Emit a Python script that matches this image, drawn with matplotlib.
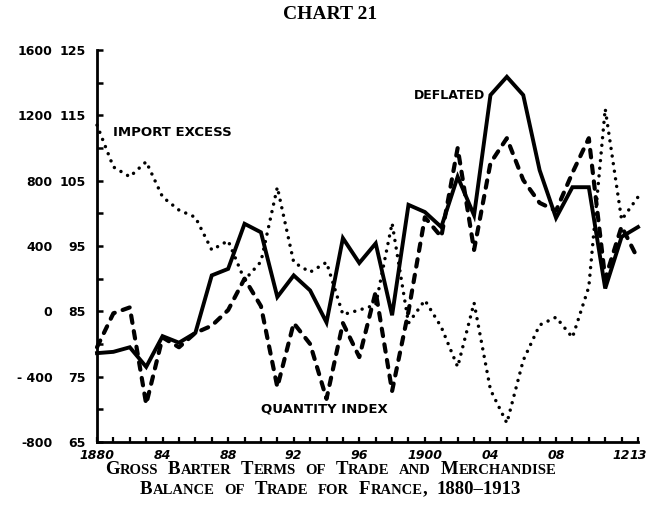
import matplotlib
matplotlib.use("Agg")
import matplotlib.pyplot as plt
from matplotlib.offsetbox import TextArea, HPacker, AnnotationBbox

years = list(range(1880, 1914))

# gross barter terms of trade, deflated (index, inner scale)
deflated = [78.6, 78.8, 79.5, 76.5, 81.2, 80.2, 81.7, 90.5, 91.5, 98.4,
            97.1, 87.2, 90.5, 88.2, 83.3, 96.2, 92.4, 95.4, 84.4, 101.3,
            100.2, 97.9, 105.6, 99.7, 118.1, 120.9, 118.1, 106.6, 99.3, 104.0,
            104.0, 88.5, 96.4, 97.9]

# quantity index (inner scale)
quantity = [79.5, 84.7, 85.6, 70.8, 81.0, 79.5, 81.7, 82.8, 85.2, 90.0,
            85.8, 73.4, 83.2, 80.0, 71.6, 83.2, 78.0, 88.0, 72.8, 85.0,
            99.4, 96.4, 110.0, 94.4, 107.7, 111.5, 105.1, 101.6, 100.4, 106.2,
            111.5, 90.0, 98.0, 93.0]

# merchandise import excess (outer scale)
import_excess = [1140, 884, 824, 916, 700, 620, 576, 376, 432, 192,
                 304, 760, 300, 240, 300, -20, 8, 40, 540, -72,
                 68, -96, -340, 52, -480, -684, -300, -84, -36, -160,
                 150, 1240, 560, 700]

inner_ticks = [125, 115, 105, 95, 85, 75, 65]
outer_ticks = [1600, 1200, 800, 400, 0, -400, -800]
outer_labels = ["1600", "1200", "800", "400", "0", "- 400", "-800"]
x_ticks = [1880, 1884, 1888, 1892, 1896, 1900, 1904, 1908, 1912, 1913]
x_labels = ["1880", "84", "88", "92", "96", "1900", "04", "08", "12", "13"]

SANS = "DejaVu Sans"
SERIF = "Liberation Serif"


def small_caps_line(text, big, small):
    words = []
    for word in text.split(" "):
        runs = []
        cur, cur_up = "", None
        for ch in word:
            up = not ch.islower()
            if cur and up != cur_up:
                runs.append((cur, cur_up))
                cur = ""
            cur += ch.upper()
            cur_up = up
        runs.append((cur, cur_up))
        parts = [TextArea(s, textprops=dict(fontsize=big if u else small,
                                            family=SERIF, weight="bold"))
                 for s, u in runs]
        words.append(HPacker(children=parts, pad=0, sep=0, align="baseline"))
    return HPacker(children=words, pad=0, sep=7, align="baseline")


fig = plt.figure(figsize=(6.51, 5.12), dpi=100)
ax = fig.add_axes([97 / 651, 70 / 512, (638 - 97) / 651, (462 - 70) / 512])

ax.plot(years, deflated, color="black", lw=2.8, solid_joinstyle="miter",
        clip_on=False, zorder=3)
ax.plot(years, quantity, color="black", lw=3.0, linestyle=(0, (1.8, 2.0)),
        dash_capstyle="round", clip_on=False, zorder=3)

ax.set_xlim(1880, 1913)
ax.set_ylim(65, 125)

ax2 = ax.twinx()
ax2.plot(years, import_excess, color="black", lw=2.5, linestyle=(0, (0.01, 2.2)),
         dash_capstyle="round", clip_on=False, zorder=3)
ax2.set_ylim(-800, 1600)
ax2.set_xlim(1880, 1913)
for s in ax2.spines.values():
    s.set_visible(False)
ax2.yaxis.set_ticks_position("left")
ax2.set_yticks(outer_ticks)
ax2.set_yticklabels(outer_labels, fontsize=9, family=SANS, weight="bold")
ax2.tick_params(axis="y", length=0, pad=32)

for side in ["top", "right"]:
    ax.spines[side].set_visible(False)
ax.spines["left"].set_linewidth(2.0)
ax.spines["bottom"].set_linewidth(2.0)

ax.set_yticks(inner_ticks)
ax.set_yticklabels([str(t) for t in inner_ticks], fontsize=9, family=SANS,
                   weight="bold")
ax.set_yticks([120, 110, 100, 90, 80, 70], minor=True)
ax.tick_params(axis="y", which="both", direction="in", length=4, width=1.8,
               pad=8)

ax.set_xticks(x_ticks)
ax.set_xticklabels(x_labels, fontsize=9, family=SANS, weight="bold",
                   style="italic")
ax.set_xticks(years, minor=True)
ax.tick_params(axis="x", which="both", direction="in", length=3.5, width=1.6,
               pad=5)

ax.text(1881.0, 112.3, "IMPORT EXCESS", fontsize=9.5, family=SANS,
        weight="bold", ha="left", va="center")
ax.text(1903.65, 118.1, "DEFLATED", fontsize=9, family=SANS, weight="bold",
        ha="right", va="center")
ax.text(1890.0, 70.0, "QUANTITY INDEX", fontsize=9.5, family=SANS,
        weight="bold", ha="left", va="center")

fig.text(0.507, 0.971, "CHART 21", fontsize=14, family=SERIF, weight="bold",
         ha="center", va="center")

line1 = small_caps_line("Gross Barter Terms of Trade and Merchandise", 13.5, 10.5)
line2 = small_caps_line("Balance of Trade for France, 1880\u20131913", 13.5, 10.5)
for box, yy in [(line1, 1 - 469 / 512), (line2, 1 - 489 / 512)]:
    ab = AnnotationBbox(box, (0.508, yy), xycoords="figure fraction",
                        frameon=False, box_alignment=(0.5, 0.5), pad=0)
    fig.add_artist(ab)

fig.savefig("out.png", dpi=100)
